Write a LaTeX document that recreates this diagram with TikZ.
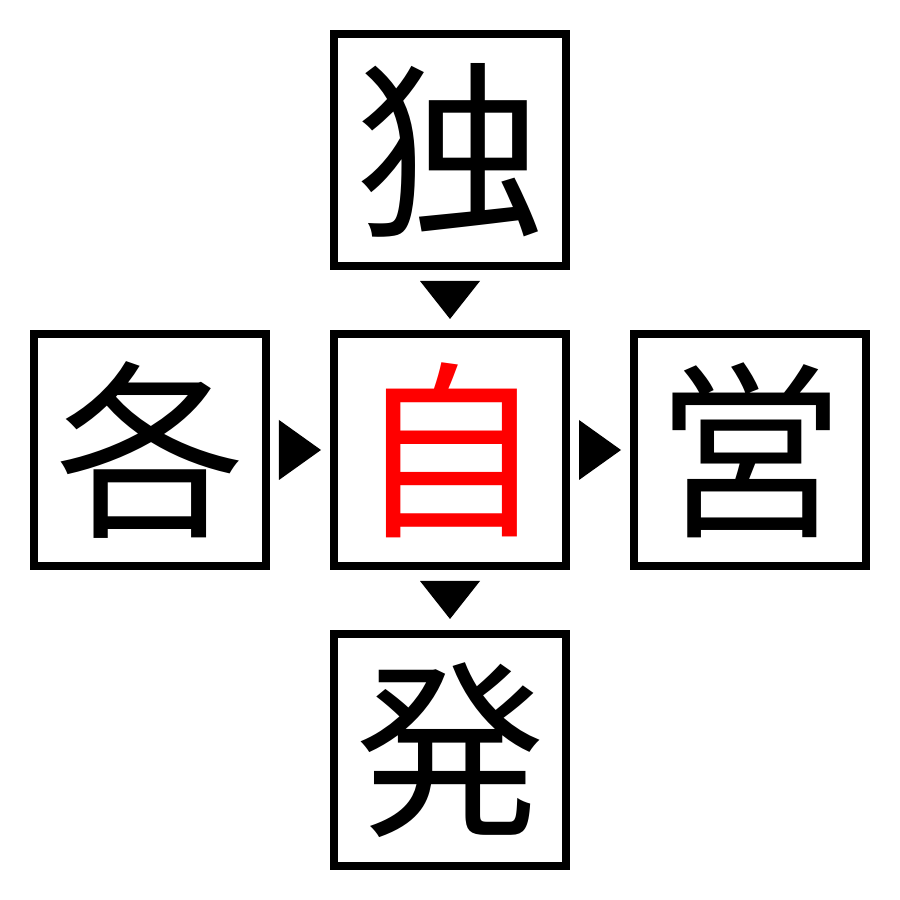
\documentclass[tikz,border=0pt]{standalone}
\usepackage{fontspec}
\newfontfamily\cjk{Noto Sans CJK JP}
\usetikzlibrary{positioning, calc}

\begin{document}
\begin{tikzpicture}[
		node distance=0.6cm and 0.6cm,
		kanji/.style={draw, line width=0.08cm, minimum size=2.32cm, inner sep=0pt, font=\cjk\fontsize{54}{54}\selectfont},
		tri/.style={fill=black}
	]
	\useasboundingbox (0,0) rectangle (9,9);

		% Nodes
		\node[kanji, text=red] (ji) at (4.5,4.5) {自};
		\node[kanji, above=of ji] (doku) {独};
		\node[kanji, left=of ji] (kaku) {各};
		\node[kanji, right=of ji] (ei) {営};
		\node[kanji, below=of ji] (hatsu) {発};

		% Arrows
		\coordinate (a1) at ($(doku.south)!0.5!(ji.north)$);
		\coordinate (a2) at ($(kaku.east)!0.5!(ji.west)$);
		\coordinate (a3) at ($(ji.east)!0.5!(ei.west)$);
		\coordinate (a4) at ($(ji.south)!0.5!(hatsu.north)$);
		\fill[tri] ($(a1)+(-0.3,0.19)$) -- ($(a1)+(0.3,0.19)$) -- ($(a1)+(0,-0.19)$) -- cycle;
		\fill[tri] ($(a2)+(-0.21,0.3)$) -- ($(a2)+(-0.21,-0.3)$) -- ($(a2)+(0.21,0)$) -- cycle;
		\fill[tri] ($(a3)+(-0.21,0.3)$) -- ($(a3)+(-0.21,-0.3)$) -- ($(a3)+(0.21,0)$) -- cycle;
		\fill[tri] ($(a4)+(-0.3,0.19)$) -- ($(a4)+(0.3,0.19)$) -- ($(a4)+(0,-0.19)$) -- cycle;

	\end{tikzpicture}
\end{document}
